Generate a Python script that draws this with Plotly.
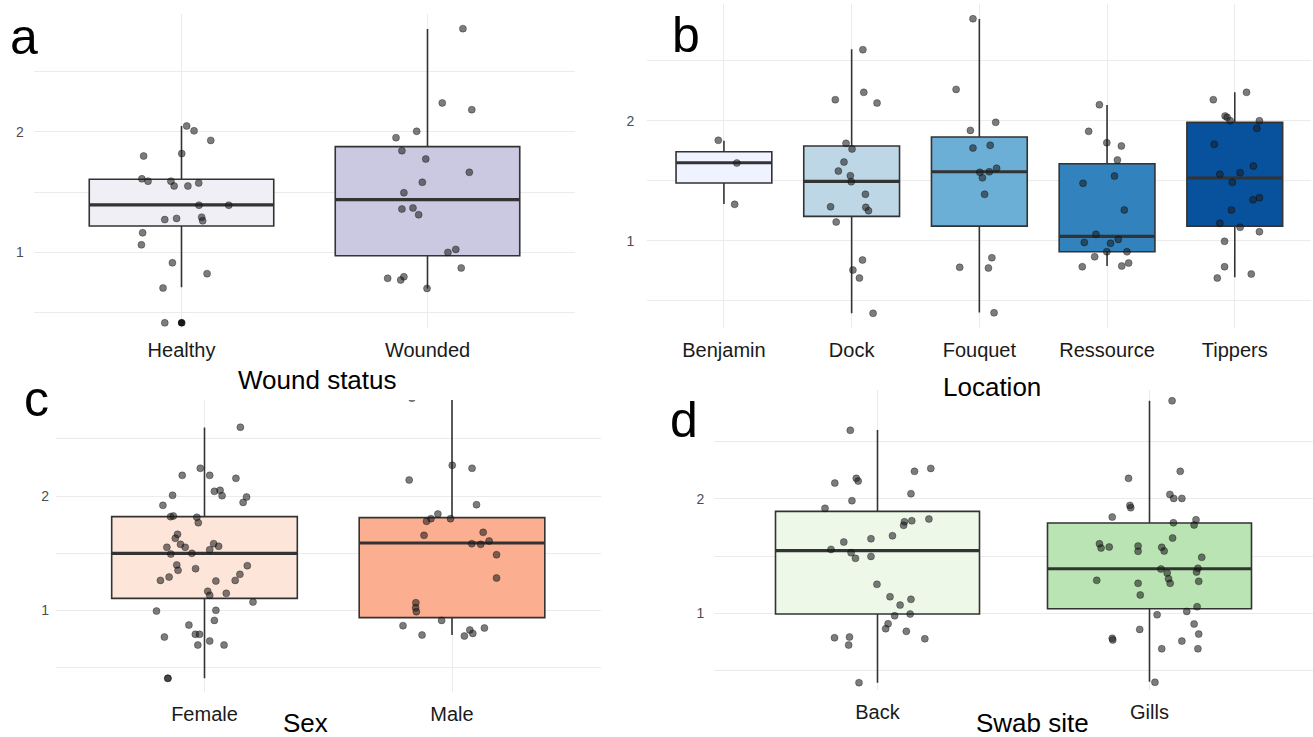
import plotly.graph_objects as go

W, H = 1313, 737
FONT = "Liberation Sans, Arial, sans-serif"

# ---------------- data ----------------
wound_cats = ["Healthy", "Wounded"]
wound_fill = ["#f0eff6", "#cbc9e2"]
wound_q1 = [1.217, 0.969]
wound_med = [1.392, 1.436]
wound_q3 = [1.606, 1.878]
wound_lo = [0.706, 0.697]
wound_hi = [2.05, 2.858]
wound_outliers_val = [0.41]
wound_outliers_cat = [0]

healthy_vals = [2.05, 2.01, 1.93, 1.80, 1.82, 1.61, 1.59, 1.59, 1.55, 1.55, 1.575, 1.39,
                1.39, 1.27, 1.28, 1.29, 1.26, 1.16, 1.06, 0.91, 0.82, 0.70, 0.41, 0.41]
healthy_jit = [0.021, 0.051, 0.119, -0.154, 0.001, -0.161, -0.136, -0.043, -0.030, 0.026, 0.070, 0.071,
               0.192, -0.068, -0.020, 0.082, 0.086, -0.158, -0.163, -0.037, 0.104, -0.075, -0.068, 0.001]
wounded_vals = [2.861, 2.242, 2.186, 2.006, 1.953, 1.844, 1.775, 1.664, 1.581, 1.494,
                1.358, 1.367, 1.311, 0.997, 1.022, 0.867, 0.781, 0.767, 0.794, 0.697]
wounded_jit = [0.144, 0.060, 0.180, -0.044, -0.128, -0.104, -0.007, 0.170, -0.021, -0.096,
               -0.104, -0.059, -0.036, 0.083, 0.115, 0.137, -0.162, -0.109, -0.096, -0.002]

loc_cats = ["Benjamin", "Dock", "Fouquet", "Ressource", "Tippers"]
loc_fill = ["#eff3ff", "#bdd7e7", "#6baed6", "#3182bd", "#08519c"]
loc_q1 = [1.482, 1.204, 1.123, 0.909, 1.123]
loc_med = [1.651, 1.496, 1.576, 1.037, 1.524]
loc_q3 = [1.743, 1.791, 1.866, 1.643, 1.988]
loc_lo = [1.307, 0.395, 0.403, 0.790, 0.696]
loc_hi = [1.835, 2.597, 2.850, 2.133, 2.238]

benjamin_vals = [1.838, 1.649, 1.304]
benjamin_jit = [-0.044, 0.101, 0.084]
dock_vals = [2.594, 2.238, 2.177, 2.149, 1.813, 1.766, 1.657, 1.582, 1.543, 1.493,
             1.388, 1.284, 1.279, 1.251, 1.157, 0.840, 0.756, 0.690, 0.395]
dock_jit = [0.088, 0.095, -0.128, 0.199, -0.044, 0.003, -0.060, -0.104, -0.010, -0.003,
            0.108, -0.165, 0.111, 0.132, -0.121, 0.085, 0.010, 0.061, 0.168]
fouquet_vals = [2.852, 2.263, 1.988, 1.921, 1.774, 1.797, 1.605, 1.576, 1.571, 1.526,
                1.388, 0.859, 0.779, 0.773, 0.400]
fouquet_jit = [-0.050, -0.182, 0.128, -0.070, -0.050, 0.085, 0.135, 0.078, 0.004, 0.024,
               0.041, 0.098, -0.154, 0.071, 0.115]
ressource_vals = [2.135, 1.913, 1.818, 1.791, 1.674, 1.540, 1.480, 1.257, 1.054, 1.012,
                  0.987, 0.979, 0.909, 0.909, 0.867, 0.784, 0.790, 0.815]
ressource_jit = [-0.060, -0.144, -0.002, 0.112, 0.081, 0.058, -0.188, 0.135, -0.087, 0.088,
                 -0.178, 0.027, -0.002, 0.156, -0.097, -0.194, 0.115, 0.169]
tippers_vals = [2.238, 2.177, 2.041, 2.030, 2.002, 2.002, 1.938, 1.805, 1.624, 1.568, 1.555,
                1.488, 1.360, 1.343, 1.257, 1.146, 1.113, 1.076, 0.996, 0.784, 0.723, 0.690]
tippers_jit = [0.092, -0.168, -0.076, -0.060, -0.036, 0.193, 0.173, -0.161, 0.146, 0.042, -0.117,
               -0.019, 0.193, 0.143, -0.026, -0.117, 0.042, 0.193, -0.080, -0.080, 0.129, -0.137]

sex_cats = ["Female", "Male"]
sex_fill = ["#fee5d9", "#fcae91"]
sex_q1 = [1.102, 0.933]
sex_med = [1.497, 1.588]
sex_q3 = [1.819, 1.810]
sex_lo = [0.401, 0.781]
sex_hi = [2.60, 2.857]

female_vals = [2.603, 2.243, 2.181, 2.181, 2.155, 2.041, 2.050, 2.003, 2.006, 1.991, 1.944, 1.918,
               1.819, 1.825, 1.813, 1.766, 1.664, 1.629, 1.576, 1.550, 1.550, 1.582, 1.559, 1.529,
               1.491, 1.497, 1.395, 1.348, 1.363, 1.389, 1.313, 1.260, 1.289, 1.260, 1.254, 1.164,
               1.129, 1.146, 1.070, 0.991, 0.997, 0.909, 0.868, 0.787, 0.787, 0.763, 0.728, 0.693,
               0.693, 0.401, 0.401]
female_jit = [0.145, -0.017, -0.090, 0.021, 0.127, 0.040, 0.063, 0.071, -0.129, 0.170, 0.156, -0.168,
              -0.137, -0.126, -0.031, -0.025, -0.109, -0.118, -0.097, -0.078, -0.152, 0.037, 0.057, 0.021,
              -0.136, -0.051, -0.112, -0.107, -0.036, 0.173, 0.143, 0.124, -0.143, -0.178, 0.046, 0.013,
              0.021, 0.088, 0.196, -0.194, 0.046, 0.040, -0.063, -0.037, -0.020, -0.162, 0.021, -0.027,
              0.079, -0.148, -0.148]
male_vals = [2.857, 2.269, 2.243, 2.140, 1.924, 1.842, 1.801, 1.778, 1.801, 1.655, 1.681, 1.582, 1.576,
             1.605, 1.485, 1.281, 1.064, 1.020, 0.985, 0.909, 0.863, 0.781, 0.842, 0.825, 0.795, 0.772]
male_jit = [-0.162, 0.001, 0.081, -0.173, 0.099, -0.057, -0.085, -0.103, -0.006, -0.113, 0.126, 0.080, 0.116,
            0.150, 0.180, 0.180, -0.146, -0.147, -0.144, -0.042, -0.198, -0.121, 0.131, 0.072, 0.084, 0.050]

site_cats = ["Back", "Gills"]
site_fill = ["#edf8e9", "#bae4b3"]
site_q1 = [0.994, 1.040]
site_med = [1.547, 1.389]
site_q3 = [1.890, 1.788]
site_lo = [0.395, 0.403]
site_hi = [2.600, 2.856]

back_vals = [2.597, 2.137, 2.178, 2.154, 1.983, 1.916, 2.239, 2.265, 2.044, 1.823, 1.808, 1.799,
             1.768, 1.677, 1.651, 1.622, 1.558, 1.529, 1.480, 1.497, 1.253, 1.145, 1.122, 1.072,
             0.994, 0.979, 0.909, 0.866, 0.843, 0.787, 0.793, 0.723, 0.778, 0.395]
back_jit = [-0.100, -0.157, -0.078, -0.071, -0.094, -0.193, 0.136, 0.196, 0.123, 0.189, 0.126, 0.099,
            0.096, 0.055, -0.024, -0.124, -0.171, -0.097, -0.081, -0.024, -0.002, 0.046, 0.123, 0.083,
            0.120, 0.063, 0.039, 0.030, 0.106, -0.158, -0.103, -0.106, 0.174, -0.068]
gills_vals = [2.855, 2.239, 2.178, 2.038, 2.003, 2.003, 1.942, 1.922, 1.840, 1.817, 1.791, 1.771,
              1.657, 1.607, 1.570, 1.579, 1.587, 1.541, 1.576, 1.544, 1.489, 1.387, 1.393, 1.360,
              1.352, 1.302, 1.262, 1.288, 1.262, 1.279, 1.160, 1.058, 1.017, 0.988, 0.860, 0.907,
              0.819, 0.758, 0.782, 0.767, 0.691, 0.691, 0.398]
gills_jit = [0.083, 0.113, -0.077, 0.075, 0.089, 0.119, -0.072, -0.069, -0.137, 0.171, 0.088, 0.164,
             0.085, -0.184, -0.178, -0.148, -0.042, -0.042, 0.045, 0.054, 0.192, 0.042, 0.178, 0.173,
             0.065, 0.070, 0.076, -0.194, -0.042, 0.181, -0.034, 0.175, 0.137, 0.028, -0.036, 0.164,
             0.181, 0.119, -0.137, -0.135, 0.045, 0.178, 0.020]

# ---------------- helpers ----------------
def fx(p):
    return p / W

def fy(p):
    return 1 - p / H

BOX_W = 0.75
PT_COLOR = "rgba(30,30,30,0.58)"
PT_LINE = "rgba(0,0,0,0.55)"

fig = go.Figure()


def add_panel(ax, cats, fills, q1, med, q3, lo, hi, groups):
    xa = "x" if ax == 1 else f"x{ax}"
    ya = "y" if ax == 1 else f"y{ax}"
    for i, c in enumerate(cats):
        fig.add_trace(go.Box(
            x=[i], q1=[q1[i]], median=[med[i]], q3=[q3[i]],
            lowerfence=[lo[i]], upperfence=[hi[i]], width=BOX_W,
            fillcolor=fills[i], line=dict(color="#333333", width=1.6),
            boxpoints=False, whiskerwidth=0, showlegend=False, hoverinfo="skip",
            xaxis=xa, yaxis=ya, name=c))
    mx, my = [], []
    for i in range(len(cats)):
        mx += [i - BOX_W / 2, i + BOX_W / 2, None]
        my += [med[i], med[i], None]
    fig.add_trace(go.Scatter(x=mx, y=my, mode="lines", line=dict(color="#333333", width=3.2),
                             showlegend=False, hoverinfo="skip", xaxis=xa, yaxis=ya))
    for i, (vals, jit) in enumerate(groups):
        fig.add_trace(go.Scatter(
            x=[i + j for j in jit], y=vals, mode="markers",
            marker=dict(size=7, color=PT_COLOR, line=dict(color=PT_LINE, width=0.6)),
            showlegend=False, hoverinfo="skip", xaxis=xa, yaxis=ya))


add_panel(1, wound_cats, wound_fill, wound_q1, wound_med, wound_q3, wound_lo, wound_hi,
          [(healthy_vals, healthy_jit), (wounded_vals, wounded_jit)])
fig.add_trace(go.Scatter(x=wound_outliers_cat, y=wound_outliers_val, mode="markers",
                         marker=dict(size=7, color="rgba(0,0,0,0.8)"), showlegend=False,
                         hoverinfo="skip", xaxis="x", yaxis="y"))
add_panel(2, loc_cats, loc_fill, loc_q1, loc_med, loc_q3, loc_lo, loc_hi,
          [(benjamin_vals, benjamin_jit), (dock_vals, dock_jit), (fouquet_vals, fouquet_jit),
           (ressource_vals, ressource_jit), (tippers_vals, tippers_jit)])
add_panel(3, sex_cats, sex_fill, sex_q1, sex_med, sex_q3, sex_lo, sex_hi,
          [(female_vals, female_jit), (male_vals, male_jit)])
add_panel(4, site_cats, site_fill, site_q1, site_med, site_q3, site_lo, site_hi,
          [(back_vals, back_jit), (gills_vals, gills_jit)])

GRID = "#ebebeb"


def xaxis(dom, cats, anchor):
    return dict(domain=[fx(dom[0]), fx(dom[1])], range=[-0.6, len(cats) - 0.4],
                tickvals=list(range(len(cats))), ticktext=cats, anchor=anchor,
                showgrid=True, gridcolor=GRID, gridwidth=1.3, zeroline=False, showline=False,
                ticks="", tickfont=dict(family=FONT, size=20, color="#1a1a1a"),
                ticklabelstandoff=8, fixedrange=True)


def yaxis(dom, rng, anchor, standoff):
    return dict(domain=[fy(dom[1]), fy(dom[0])], range=rng, tickvals=[1, 2], ticktext=["1", "2"],
                anchor=anchor, showgrid=True, gridcolor=GRID, gridwidth=1.3, zeroline=False,
                showline=False, ticks="", tickfont=dict(family=FONT, size=14, color="#4d4d4d"),
                ticklabelstandoff=standoff,
                minor=dict(tickvals=[0.5, 1.5, 2.5], showgrid=True, gridcolor=GRID, gridwidth=1.1),
                fixedrange=True)


fig.update_layout(
    width=W, height=H, margin=dict(l=0, r=0, t=0, b=0),
    paper_bgcolor="white", plot_bgcolor="white", showlegend=False,
    xaxis=xaxis((33.9, 575.1), wound_cats, "y"),
    yaxis=yaxis((14, 328), [0.367, 2.983], "x", 9),
    xaxis2=xaxis((647.3, 1311.4), loc_cats, "y2"),
    yaxis2=yaxis((4, 328), [0.273, 2.975], "x2", 12),
    xaxis3=xaxis((56, 600.5), sex_cats, "y3"),
    yaxis3=yaxis((400, 692), [0.281, 2.842], "x3", 6),
    xaxis4=xaxis((714.3, 1312.7), site_cats, "y4"),
    yaxis4=yaxis((390, 690), [0.331, 2.949], "x4", 9),
)

annos = [
    ("Wound status", 317, 380, 26, "center"),
    ("Location", 992, 387, 26, "center"),
    ("Sex", 305, 723, 26, "center"),
    ("Swab site", 1032, 723, 26, "center"),
    ("a", 8, 37, 50, "left"),
    ("b", 670, 35, 50, "left"),
    ("c", 22, 399, 50, "left"),
    ("d", 668, 420, 50, "left"),
]
for text, x, y, size, anchor in annos:
    fig.add_annotation(text=text, x=fx(x), y=fy(y), xref="paper", yref="paper",
                       xanchor=anchor, yanchor="middle", showarrow=False,
                       font=dict(family=FONT, size=size, color="black"))

fig.write_html("out.html")
